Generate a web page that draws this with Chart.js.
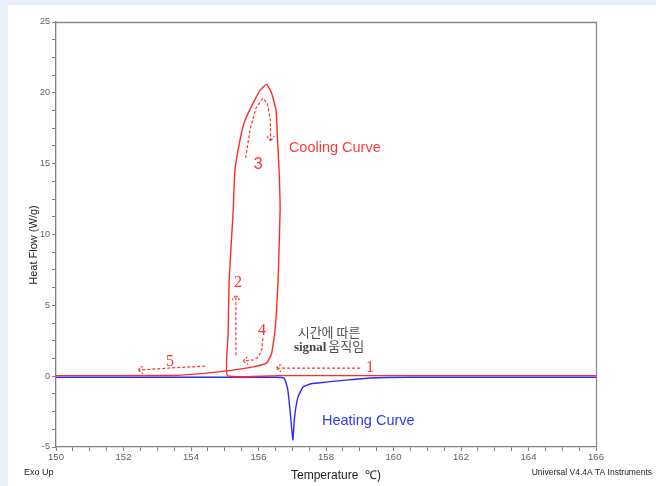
<!DOCTYPE html>
<html>
<head>
<meta charset="utf-8">
<script src="https://cdn.jsdelivr.net/npm/chart.js@4/dist/chart.umd.min.js"></script>
<style>
  html, body { margin: 0; padding: 0; background: #eaf0f9; }
  #wrap { width: 656px; height: 486px; position: relative; }
</style>
</head>
<body>
<div id="wrap"><canvas id="dsc" width="656" height="486"></canvas></div>
<script>
// Cooling run (red): baseline from 166 °C down, supercooled crystallisation loop, then tail to 150 °C
const coolingTemp = [166, 160.3, 156.6, 155.08, 155.1, 155.13, 155.25, 155.3, 155.45, 155.6, 155.84, 156.04, 156.24,
                     156.39, 156.52, 156.56, 156.61, 156.64, 156.58, 156.49, 156.39, 156.24, 155.84, 155.06, 154.3, 153.47, 150];
const coolingFlow = [0.04, 0.04, 0.04, 0.04, 3.0, 6.77, 11.7, 14.5, 16.65, 18.07, 19.27, 20.18, 20.6,
                     19.97, 18.77, 16.87, 14.54, 11.71, 6.77, 3.25, 1.62, 0.92, 0.66, 0.37, 0.18, 0.05, 0.04];

// Heating run (blue): melting endotherm near 157 °C
const heatingTemp = [150, 153, 156.5, 156.75, 156.82, 156.87, 156.93, 156.98, 157.02, 157.06, 157.1, 157.17,
                     157.32, 157.53, 157.76, 158.5, 159.3, 160.5, 166];
const heatingFlow = [-0.08, -0.08, -0.08, -0.12, -0.5, -1.0, -2.3, -3.6, -4.5, -3.1, -2.3, -1.48,
                     -0.76, -0.55, -0.48, -0.3, -0.13, -0.08, -0.08];

// Axis ranges and labelled tick values
const tempRange = [150, 166];
const flowRange = [-5, 25];
const tempLabelStep = 2;
const flowLabelStep = 5;

const toPoints = (xs, ys) => xs.map((x, i) => ({ x: x, y: ys[i] }));

// Page background with the white sheet
const sheet = {
  id: 'sheet',
  beforeDraw(chart) {
    const ctx = chart.ctx;
    ctx.save();
    ctx.fillStyle = '#eaf0f9';
    ctx.fillRect(0, 0, chart.width, chart.height);
    ctx.fillStyle = '#ffffff';
    ctx.fillRect(8, 5, chart.width - 8, chart.height - 5);
    ctx.restore();
  },
  beforeDatasetsDraw(chart) {
    const { ctx, chartArea: a } = chart;
    ctx.save();
    ctx.strokeStyle = '#8a8a8a';
    ctx.lineWidth = 1.3;
    ctx.beginPath();
    ctx.moveTo(a.left, a.top + 0.5);
    ctx.lineTo(a.right + 0.5, a.top + 0.5);
    ctx.lineTo(a.right + 0.5, a.bottom);
    ctx.stroke();
    ctx.restore();
  }
};

// Labels, step numbers and dashed direction arrows
const notes = {
  id: 'notes',
  afterDraw(chart) {
    const { ctx, scales: { x, y }, chartArea: a } = chart;
    const px = t => x.getPixelForValue(t);
    const py = v => y.getPixelForValue(v);
    const red = '#ff3030';

    function text(str, t, v, font, color, align) {
      ctx.font = font;
      ctx.fillStyle = color;
      ctx.textAlign = align || 'left';
      ctx.textBaseline = 'alphabetic';
      ctx.fillText(str, px(t), py(v));
    }
    function arrow(pts) {
      ctx.save();
      ctx.strokeStyle = red;
      ctx.lineWidth = 1.2;
      ctx.setLineDash([3, 2]);
      ctx.beginPath();
      pts.forEach((p, i) => {
        const X = px(p[0]), Y = py(p[1]);
        if (i === 0) ctx.moveTo(X, Y); else ctx.lineTo(X, Y);
      });
      ctx.stroke();
      // open arrow head at the last point
      const n = pts.length;
      const X1 = px(pts[n - 1][0]), Y1 = py(pts[n - 1][1]);
      const X0 = px(pts[n - 2][0]), Y0 = py(pts[n - 2][1]);
      const ang = Math.atan2(Y1 - Y0, X1 - X0);
      const L = 6, w = 0.65;
      ctx.setLineDash([2, 1.5]);
      ctx.beginPath();
      ctx.moveTo(X1 - L * Math.cos(ang - w), Y1 - L * Math.sin(ang - w));
      ctx.lineTo(X1, Y1);
      ctx.lineTo(X1 - L * Math.cos(ang + w), Y1 - L * Math.sin(ang + w));
      ctx.stroke();
      ctx.restore();
    }

    ctx.save();
    // dashed arrows 1-5
    arrow([[159.01, 0.57], [156.52, 0.57]]);
    arrow([[155.33, 1.48], [155.33, 5.72]]);
    arrow([[155.62, 15.4], [155.75, 17.4], [155.92, 18.9], [156.13, 19.62], [156.27, 19.2], [156.35, 18.1], [156.36, 16.6]]);
    arrow([[156.13, 2.68], [156.1, 1.9], [156.0, 1.35], [155.85, 1.15], [155.54, 1.06]]);
    arrow([[154.42, 0.71], [153.4, 0.58], [152.43, 0.43]]);

    const numFont = '16px "Liberation Serif", "DejaVu Serif", serif';
    text('1', 159.30, 0.28, numFont, red, 'center');
    text('2', 155.39, 6.3, numFont, red, 'center');
    text('3', 155.99, 14.6, '16px "Liberation Sans", Arial, sans-serif', red, 'center');
    text('4', 156.10, 2.9, numFont, red, 'center');
    text('5', 153.38, 0.75, numFont, red, 'center');

    text('Cooling Curve', 156.9, 15.8, '14.5px "Liberation Sans", Arial, sans-serif', '#ff3a3a', 'left');
    text('Heating Curve', 157.88, -3.46, '14.5px "Liberation Sans", Arial, sans-serif', '#2a3cf0', 'left');

    text('시간에 따른', 158.09, 2.75, '13px "Noto Sans CJK KR", sans-serif', '#505050', 'center');
    ctx.font = '13px "Liberation Serif", serif';
    const w1 = ctx.measureText('signal ').width;
    ctx.font = '13px "Noto Sans CJK KR", sans-serif';
    const w2 = ctx.measureText('움직임').width;
    const startX = px(158.09) - (w1 + w2) / 2;
    const baseY = py(1.76);
    ctx.fillStyle = '#444444';
    ctx.textAlign = 'left';
    ctx.font = 'bold 13px "Liberation Serif", serif';
    ctx.fillText('signal', startX, baseY);
    ctx.font = '13px "Noto Sans CJK KR", sans-serif';
    ctx.fillStyle = '#505050';
    ctx.fillText('움직임', startX + w1, baseY);

    // axis titles and corner captions
    ctx.fillStyle = '#222222';
    ctx.font = '12px "Liberation Sans", Arial, sans-serif';
    ctx.textAlign = 'center';
    ctx.fillText('Temperature  \u2103)', (a.left + a.right) / 2 + 10, 479);
    ctx.save();
    ctx.translate(37, 245);
    ctx.rotate(-Math.PI / 2);
    ctx.font = '11px "Liberation Sans", Arial, sans-serif';
    ctx.fillText('Heat Flow (W/g)', 0, 0);
    ctx.restore();
    ctx.font = '9px "Liberation Sans", Arial, sans-serif';
    ctx.textAlign = 'left';
    ctx.fillText('Exo Up', 24, 475);
    ctx.textAlign = 'right';
    ctx.font = '8.5px "Liberation Sans", Arial, sans-serif';
    ctx.fillText('Universal V4.4A TA Instruments', 652, 475);
    ctx.restore();
  }
};

new Chart(document.getElementById('dsc'), {
  type: 'scatter',
  data: {
    datasets: [
      {
        label: 'Cooling Curve',
        data: toPoints(coolingTemp, coolingFlow),
        showLine: true,
        borderColor: '#ff2a2a',
        borderWidth: 1.4,
        pointRadius: 0,
        tension: 0.12
      },
      {
        label: 'Heating Curve',
        data: toPoints(heatingTemp, heatingFlow),
        showLine: true,
        borderColor: '#2b2bff',
        borderWidth: 1.4,
        pointRadius: 0,
        tension: 0.12
      }
    ]
  },
  options: {
    responsive: false,
    animation: false,
    devicePixelRatio: 1,
    layout: { padding: { top: 22, right: 60, left: 0, bottom: 0 } },
    plugins: { legend: { display: false }, tooltip: { enabled: false } },
    scales: {
      x: {
        type: 'linear',
        min: tempRange[0],
        max: tempRange[1],
        afterFit(s) { s.height = 39; },
        border: { display: true, color: '#808080', width: 1.3 },
        grid: { drawOnChartArea: false, drawTicks: true, tickLength: 4, color: '#808080' },
        ticks: {
          stepSize: 0.5,
          autoSkip: false,
          maxRotation: 0,
          padding: 1,
          color: '#606060',
          font: { family: '"Liberation Sans", Arial, sans-serif', size: 9.5 },
          callback: v => (Math.abs(v % tempLabelStep) < 1e-9 ? String(v) : '')
        }
      },
      y: {
        type: 'linear',
        min: flowRange[0],
        max: flowRange[1],
        afterFit(s) { s.width = 56; },
        border: { display: true, color: '#808080', width: 1.3 },
        grid: { drawOnChartArea: false, drawTicks: true, tickLength: 4, color: '#808080' },
        ticks: {
          stepSize: 1.25,
          autoSkip: false,
          padding: 2,
          color: '#606060',
          font: { family: '"Liberation Sans", Arial, sans-serif', size: 9 },
          callback: v => (Math.abs(v % flowLabelStep) < 1e-9 ? String(v) : '')
        }
      }
    }
  },
  plugins: [sheet, notes]
});
</script>
</body>
</html>
